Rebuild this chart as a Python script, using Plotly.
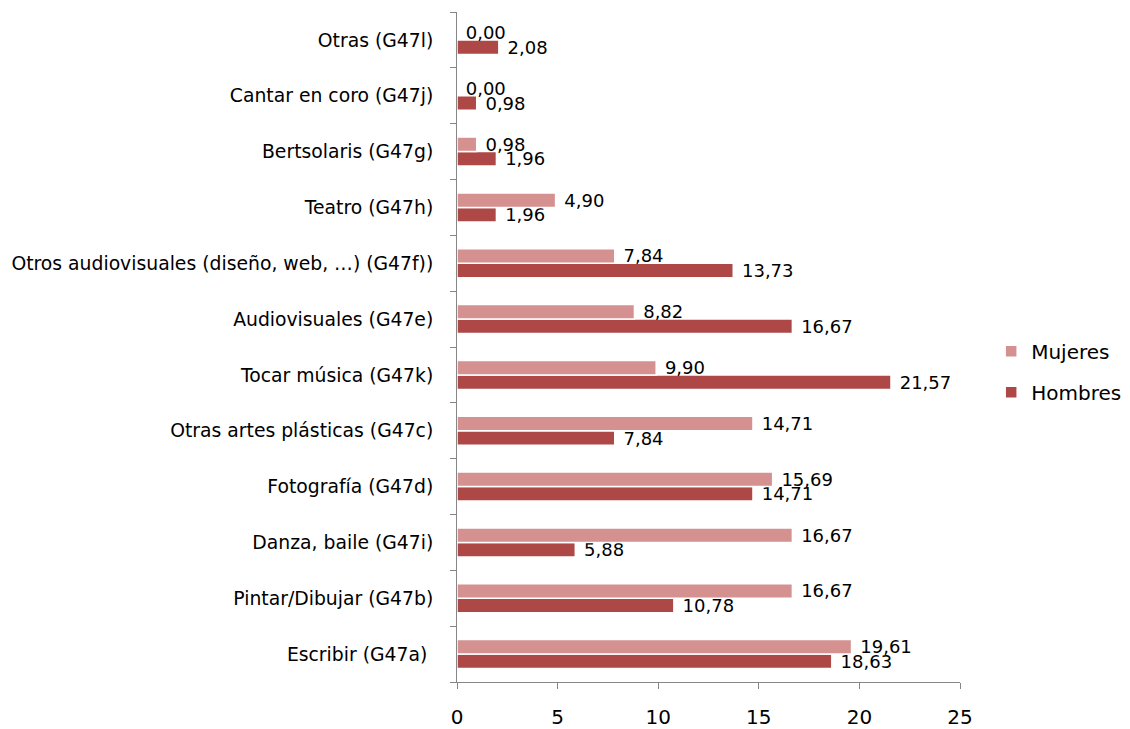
import plotly.graph_objects as go

categories = [
    "Escribir (G47a) ",
    "Pintar/Dibujar (G47b)",
    "Danza, baile (G47i)",
    "Fotografía (G47d)",
    "Otras artes plásticas (G47c)",
    "Tocar música (G47k)",
    "Audiovisuales (G47e)",
    "Otros audiovisuales (diseño, web, …) (G47f))",
    "Teatro (G47h)",
    "Bertsolaris (G47g)",
    "Cantar en coro (G47j)",
    "Otras (G47l)",
]
mujeres = [19.61, 16.67, 16.67, 15.69, 14.71, 9.90, 8.82, 7.84, 4.90, 0.98, 0.00, 0.00]
hombres = [18.63, 10.78, 5.88, 14.71, 7.84, 21.57, 16.67, 13.73, 1.96, 1.96, 0.98, 2.08]
x_ticks = [0, 5, 10, 15, 20, 25]

FONT = "DejaVu Sans"
C_M = "#d59190"
C_H = "#ad4846"


def fmt(v):
    return "\u00a0" + f"{v:.2f}".replace(".", ",")


fig = go.Figure()
fig.add_trace(go.Bar(
    name="Hombres", y=categories, x=hombres, orientation="h",
    legendgroup="h", legendrank=2,
    marker=dict(color=C_H, line=dict(color="white", width=1.5)),
    text=[fmt(v) for v in hombres], textposition="outside", constraintext="none",
    textfont=dict(family=FONT, size=18, color="black"), cliponaxis=False,
))
fig.add_trace(go.Bar(
    name="Mujeres", y=categories, x=mujeres, orientation="h",
    legendgroup="m", legendrank=1,
    marker=dict(color=C_M, line=dict(color="white", width=1.5)),
    text=[fmt(v) for v in mujeres], textposition="outside", constraintext="none",
    textfont=dict(family=FONT, size=18, color="black"), cliponaxis=False,
))

fig.update_layout(
    width=1122, height=721,
    margin=dict(l=449, r=170, t=4, b=47, autoexpand=False),
    barmode="group", bargap=0.48, bargroupgap=0.0,
    paper_bgcolor="white", plot_bgcolor="white",
    font=dict(family=FONT, size=18, color="black"),
    showlegend=True,
    legend=dict(traceorder="grouped", x=1.062, y=0.463, xanchor="left", yanchor="middle",
                font=dict(family=FONT, size=20), itemwidth=30, tracegroupgap=12,
                bgcolor="rgba(0,0,0,0)"),
)
fig.update_xaxes(
    range=[0, 25], tickvals=x_ticks, ticktext=[str(t) for t in x_ticks],
    showgrid=False, zeroline=False, showline=True, linecolor="#868686", linewidth=1,
    ticks="outside", ticklen=6, tickcolor="#868686", automargin=False,
    tickfont=dict(family=FONT, size=20), ticklabelstandoff=11,
)
fig.update_yaxes(
    categoryorder="array", categoryarray=categories,
    showgrid=False, zeroline=False, showline=True, linecolor="#868686", linewidth=1,
    ticks="outside", ticklen=6, tickcolor="#868686", tickson="boundaries", automargin=False,
    tickfont=dict(family=FONT, size=18.8), ticklabelstandoff=19,
)

fig.write_html("out.html")
